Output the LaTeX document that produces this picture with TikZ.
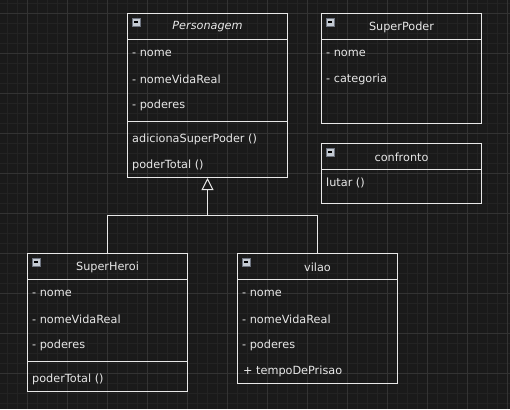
\documentclass[tikz,border=0pt]{standalone}
\usepackage{fontspec}
\setmainfont{DejaVu Sans}
\usetikzlibrary{arrows.meta}
\definecolor{bgdark}{HTML}{1A1A1A}
\definecolor{gridmajor}{HTML}{333333}
\definecolor{gridminor}{HTML}{232323}
\definecolor{umlline}{HTML}{E8E8E8}
\definecolor{iconfill}{HTML}{C4CAD2}
\definecolor{iconedge}{HTML}{6E7480}
\tikzstyle{classbox} = [rectangle, draw=umlline, line width=1bp, minimum width=160bp, anchor=north west, inner sep=0pt]
\tikzstyle{classline} = [draw=umlline, line width=1bp]
\tikzstyle{title} = [text=umlline, inner sep=0pt, font=\fontsize{11.3}{13}\selectfont]
\tikzstyle{member} = [text=umlline, anchor=west, inner sep=0pt, font=\fontsize{11.3}{13}\selectfont]
\tikzstyle{inherit} = [draw=umlline, line width=1bp, -{Triangle[open, length=12bp, width=12bp, fill=bgdark]}]

\begin{document}
\begin{tikzpicture}[x=1bp, y=-1bp]
    % background and grid
    \fill[bgdark] (0,0) rectangle (510,409);
    \useasboundingbox (0,0) rectangle (510,409);
    \foreach \x in {7,17,...,507} \draw[gridminor, line width=0.5bp] (\x,0) -- (\x,409);
    \foreach \y in {3,13,...,403} \draw[gridminor, line width=0.5bp] (0,\y) -- (510,\y);
    \foreach \x in {27,67,...,507} \draw[gridmajor, line width=0.6bp] (\x,0) -- (\x,409);
    \foreach \y in {13,53,...,409} \draw[gridmajor, line width=0.6bp] (0,\y) -- (510,\y);

    % class boxes
    \node [classbox, minimum height=164bp] (personagem) at (127,13) {};
    \node [classbox, minimum height=110bp] (superpoder) at (321,13) {};
    \node [classbox, minimum height=60bp]  (confronto)  at (321,143) {};
    \node [classbox, minimum height=138bp] (superheroi) at (27,253) {};
    \node [classbox, minimum height=130bp] (vilao)      at (237,253) {};

    % headers
    \foreach \c in {personagem, superpoder, confronto, superheroi, vilao} {
        \draw[classline] ([yshift=-26bp]\c.north west) -- ([yshift=-26bp]\c.north east);
        \draw[fill=iconfill, draw=iconedge, line width=0.6bp]
            ([xshift=5bp,yshift=-5bp]\c.north west) rectangle ([xshift=13bp,yshift=-13bp]\c.north west);
        \draw[black, line width=1.2bp]
            ([xshift=7bp,yshift=-9bp]\c.north west) -- ([xshift=11bp,yshift=-9bp]\c.north west);
    }
    \draw[classline] (personagem.west |- 0,121) -- (personagem.east |- 0,121);
    \draw[classline] (superheroi.west |- 0,361) -- (superheroi.east |- 0,361);

    % titles
    \node [title] (t_pers)  at ([yshift=-14bp]personagem.north) {\textit{Personagem}};
    \node [title] (t_poder) at ([yshift=-14bp]superpoder.north) {SuperPoder};
    \node [title] (t_conf)  at ([yshift=-14bp]confronto.north)  {confronto};
    \node [title] (t_heroi) at ([yshift=-14bp]superheroi.north) {SuperHeroi};
    \node [title] (t_vilao) at ([yshift=-14bp]vilao.north)      {vilao};

    % members
    \node [member] (pers_a1) at (132,53)  {- nome};
    \node [member] (pers_a2) at (132,79)  {- nomeVidaReal};
    \node [member] (pers_a3) at (132,105) {- poderes};
    \node [member] (pers_m1) at (132,139) {adicionaSuperPoder ()};
    \node [member] (pers_m2) at (132,165) {poderTotal ()};

    \node [member] (poder_a1) at (326,53) {- nome};
    \node [member] (poder_a2) at (326,79) {- categoria};

    \node [member] (conf_m1) at (326,183) {lutar ()};

    \node [member] (heroi_a1) at (32,293) {- nome};
    \node [member] (heroi_a2) at (32,319) {- nomeVidaReal};
    \node [member] (heroi_a3) at (32,345) {- poderes};
    \node [member] (heroi_m1) at (32,379) {poderTotal ()};

    \node [member] (vilao_a1) at (242,293) {- nome};
    \node [member] (vilao_a2) at (242,319) {- nomeVidaReal};
    \node [member] (vilao_a3) at (242,345) {- poderes};
    \node [member] (vilao_a4) at (243,371) {+ tempoDePrisao};

    % inheritance
    \coordinate (junction) at (207.5,215.5);
    \draw[inherit] (superheroi.north) |- (junction) -- (junction |- personagem.south);
    \draw[classline] (vilao.north) |- (junction);
\end{tikzpicture}
\end{document}
